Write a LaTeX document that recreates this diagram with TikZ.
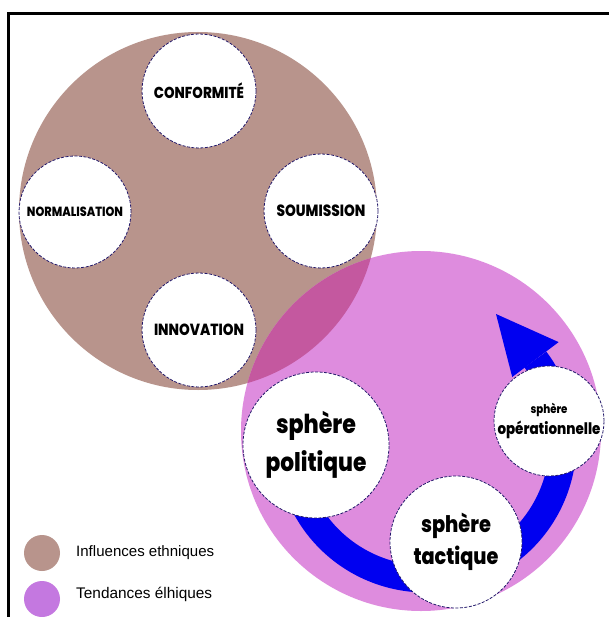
\documentclass[tikz,border=0pt]{standalone}
\usepackage{fontspec}
\usepackage{graphicx}
\setmainfont{Liberation Sans}
\IfFontExistsTF{Poppins ExtraBold}
  {\newfontfamily\pop{Poppins ExtraBold}}
  {\newfontfamily\pop{Poppins}[UprightFeatures={FakeBold=1.5}]}
\definecolor{brownc}{HTML}{B8948C}
\definecolor{pinkc}{HTML}{DE8CDE}
\definecolor{lensc}{HTML}{C4589F}
\definecolor{arrowc}{HTML}{0000F0}
\definecolor{navyc}{HTML}{22186A}
\definecolor{legpink}{HTML}{C478E0}
\newcommand{\fitw}[2]{\resizebox{#1pt}{!}{#2}}
\newcommand{\fitv}[2]{\scalebox{1}[1.18]{\resizebox{#1pt}{!}{#2}}}
\begin{document}
\begin{tikzpicture}[x=1pt,y=-1pt,
  bigdisc/.style={circle,inner sep=0pt,draw=none},
  bubble/.style={circle,fill=white,draw=navyc,dashed,dash pattern=on 3pt off 1.5pt,line width=0.8pt,inner sep=0pt,align=center,font=\pop},
  legdot/.style={circle,inner sep=0pt,minimum size=36pt},
  legtext/.style={anchor=west,inner sep=0pt}]
\useasboundingbox (0,0) rectangle (609,617);
\fill[white] (0,0) rectangle (609,617);
\draw[line width=3pt] (8.5,617) -- (8.5,13.5) -- (609,13.5);
% big discs
\node[bigdisc,fill=brownc,minimum size=358pt] (inf) at (198,211) {};
\node[bigdisc,fill=pinkc,minimum size=360pt] (ten) at (421,431) {};
\begin{scope}
  \clip (421,431) circle (180);
  \fill[lensc] (198,211) circle (179);
\end{scope}
% arrow
\draw[arrowc,line width=27pt] (426,442) ++(151:137) arc[start angle=151,end angle=-37,radius=137];
\fill[arrowc] (558.6,342.1) -- (496,314) -- (512.2,377.0) -- cycle;
% bubbles
\node[bubble,minimum size=114pt] (conf) at (199,91) {\fitv{90}{CONFORMITÉ}};
\node[bubble,minimum size=112pt] (norm) at (75,212) {\fitv{96}{NORMALISATION}};
\node[bubble,minimum size=114pt] (soum) at (321,211) {\fitv{89}{SOUMISSION}};
\node[bubble,minimum size=114pt] (inno) at (199,330) {\fitv{90}{INNOVATION}};
\node[bubble,minimum size=146pt] (pol) at (316,445) {\fitv{80}{sphère}\\[9pt]\fitv{101}{politique}};
\node[bubble,minimum size=132pt] (tac) at (456,542) {\fitv{70}{sphère}\\[6pt]\fitv{85}{tactique}};
\node[bubble,minimum size=110pt] (ope) at (549,421) {\fitv{37}{sphère}\\[3pt]\fitv{103}{opérationnelle}};
% legend
\node[legdot,fill=brownc] (lg1) at (42,553) {};
\node[legdot,fill=legpink] (lg2) at (42,599) {};
\node[legtext] (lt1) at (76,553) {\fitw{138}{Influences ethniques}};
\node[legtext] (lt2) at (76,594) {\fitw{136}{Tendances élhiques}};
\end{tikzpicture}
\end{document}
